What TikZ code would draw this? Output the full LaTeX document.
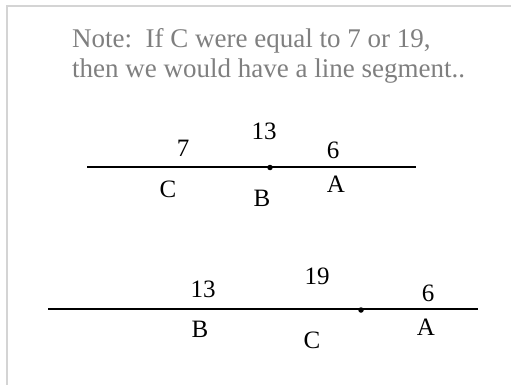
\documentclass[tikz,border=0pt]{standalone}
\usepackage{fontspec}
\setmainfont{Liberation Serif}
\usetikzlibrary{positioning}
\definecolor{notegray}{HTML}{7F7F7F}
\definecolor{framegray}{HTML}{D4D4D4}
\tikzset{
  note/.style={anchor=base west, inner sep=0pt, text=notegray, font=\fontsize{27}{31}\selectfont},
  lbl/.style={inner sep=0pt, font=\fontsize{25}{28}\selectfont},
  segline/.style={line width=1.3pt, draw=black},
  pt/.style={circle, fill=black, inner sep=0pt, minimum size=5.5pt},
  frame/.style={line width=2pt, draw=framegray},
}
\begin{document}
\begin{tikzpicture}[x=1pt, y=-1pt]
  \useasboundingbox (0,0) rectangle (511,385);
  % frame
  \draw[frame] (7,385) -- (7,6) -- (511,6);

  % note
  \node[note] (note1) at (72,48) {Note:\ \ If C were equal to 7 or 19,};
  \node[note] (note2) at (72,78) {then we would have a line segment..};

  % first line: C - B - A
  \coordinate (l1a) at (87,167);
  \coordinate (l1b) at (416,167);
  \draw[segline] (l1a) -- (l1b);
  \node[pt] (dot1) at (270,167.5) {};
  \node[lbl] (n7) at (183,148) {7};
  \node[lbl] (n13a) at (264,131) {13};
  \node[lbl] (n6a) at (333,150) {6};
  \node[lbl] (c1) at (168,189) {C};
  \node[lbl] (b1) at (262,198) {B};
  \node[lbl] (a1) at (336,184) {A};

  % second line: B - C - A
  \coordinate (l2a) at (48,309);
  \coordinate (l2b) at (478,309);
  \draw[segline] (l2a) -- (l2b);
  \node[pt] (dot2) at (361,310) {};
  \node[lbl] (n13b) at (203,289) {13};
  \node[lbl] (n19) at (317,276) {19};
  \node[lbl] (n6b) at (428,293) {6};
  \node[lbl] (b2) at (200,329) {B};
  \node[lbl] (c2) at (312,340) {C};
  \node[lbl] (a2) at (426,327) {A};
\end{tikzpicture}
\end{document}
